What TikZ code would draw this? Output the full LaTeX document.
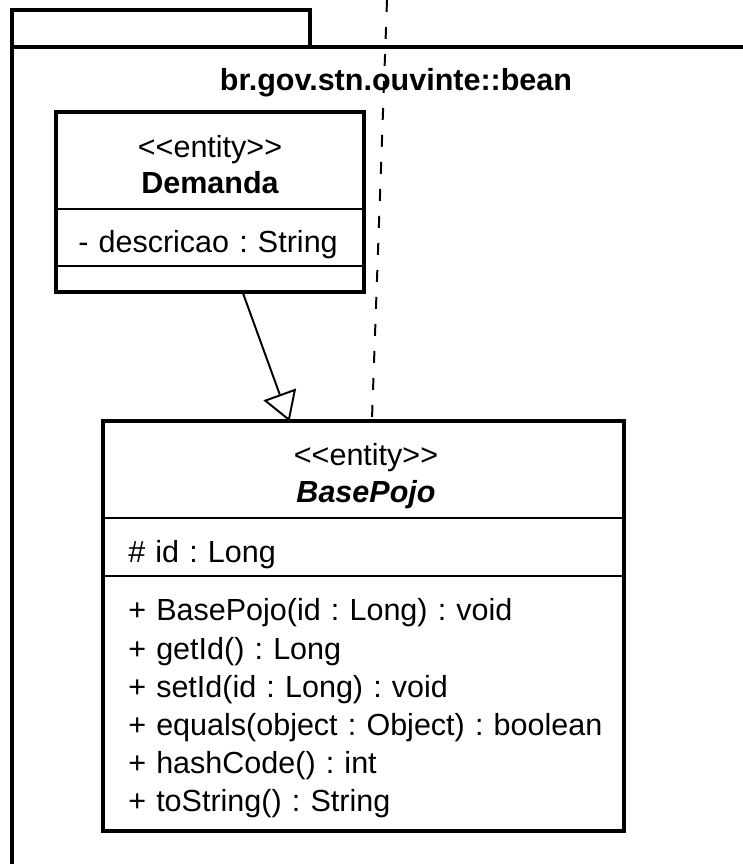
\documentclass[tikz,border=0pt]{standalone}
\usepackage{fontspec}
\setmainfont{Liberation Sans}[Ligatures=TeXOff]
\frenchspacing
\usetikzlibrary{positioning}
\usetikzlibrary{arrows.meta}
\newcommand{\umlfont}{\fontsize{21.7pt}{26pt}\selectfont}
\tikzstyle{cls}=[draw, line width=2.8pt, shape=rectangle, inner sep=0pt, outer sep=0pt]
\tikzstyle{lbc}=[font=\umlfont, inner sep=0pt, text height=15.6pt, text depth=0pt]
\tikzstyle{lbl}=[font=\umlfont, inner sep=0pt, text height=15.6pt, text depth=0pt, anchor=west, node distance=0cm, minimum height=0.94cm, text width=12.5cm, align=left]
\tikzstyle{sepline}=[line width=1.4pt]
\tikzstyle{pkgline}=[line width=2.4pt]
\tikzstyle{genarrow}=[line width=1.4pt, -{Triangle[open, length=0.72cm, width=0.86cm]}]
\tikzstyle{depline}=[line width=1.4pt, dash pattern=on 0.3cm off 0.375cm]
\def\cls{\node[style=cls]}
\def\lbc{\node[style=lbc]}
\def\lbl{\node[style=lbl]}
\begin{document}
\begin{tikzpicture}[x=0.025cm, y=-0.025cm]
      \useasboundingbox (0,0) rectangle (743,864);
      % package
      \draw[pkgline] (12,866) -- (12,47) -- (745,47);
      \draw[pkgline] (12,47) -- (12,10) -- (310,10) -- (310,47);
      \node[font=\umlfont\bfseries, inner sep=0pt] (pkgname) at (396,83) {br.gov.stn.ouvinte::bean};
      % Demanda
      \cls (demanda) at (210,202) [minimum width=7.7cm, minimum height=4.5cm] {};
      \lbc (dstereo) at (210,147)        {<<entity>>};
      \lbc (dname)   at (210,183)        {\bfseries Demanda};
      \draw[sepline] (demanda.west |- 0,209) -- (demanda.east |- 0,209);
      \lbl (dattr)   at (78,242)         {- descricao : String};
      \draw[sepline] (demanda.west |- 0,266) -- (demanda.east |- 0,266);
      % BasePojo
      \cls (basepojo) at (363.5,626) [minimum width=13.025cm, minimum height=10.225cm] {};
      \lbc (bstereo) at (366,455)        {<<entity>>};
      \lbc (bname)   at (366,492)        {\bfseries\itshape BasePojo};
      \draw[sepline] (basepojo.west |- 0,518) -- (basepojo.east |- 0,518);
      \lbl (battr)   at (128,552)        {\# id : Long};
      \draw[sepline] (basepojo.west |- 0,576) -- (basepojo.east |- 0,576);
      \lbl (bop0)    at (128,610)        {+ BasePojo(id : Long) : void};
      \lbl (bop1)    [below=of bop0]     {+ getId() : Long};
      \lbl (bop2)    [below=of bop1]     {+ setId(id : Long) : void};
      \lbl (bop3)    [below=of bop2]     {+ equals(object : Object) : boolean};
      \lbl (bop4)    [below=of bop3]     {+ hashCode() : int};
      \lbl (bop5)    [below=of bop4]     {+ toString() : String};
      % links
      \draw[genarrow] (demanda) -- (basepojo);
      \coordinate (dtop) at (387,0);
      \draw[depline] (dtop) -- ([xshift=0.21cm]basepojo.north);
\end{tikzpicture}
\end{document}
